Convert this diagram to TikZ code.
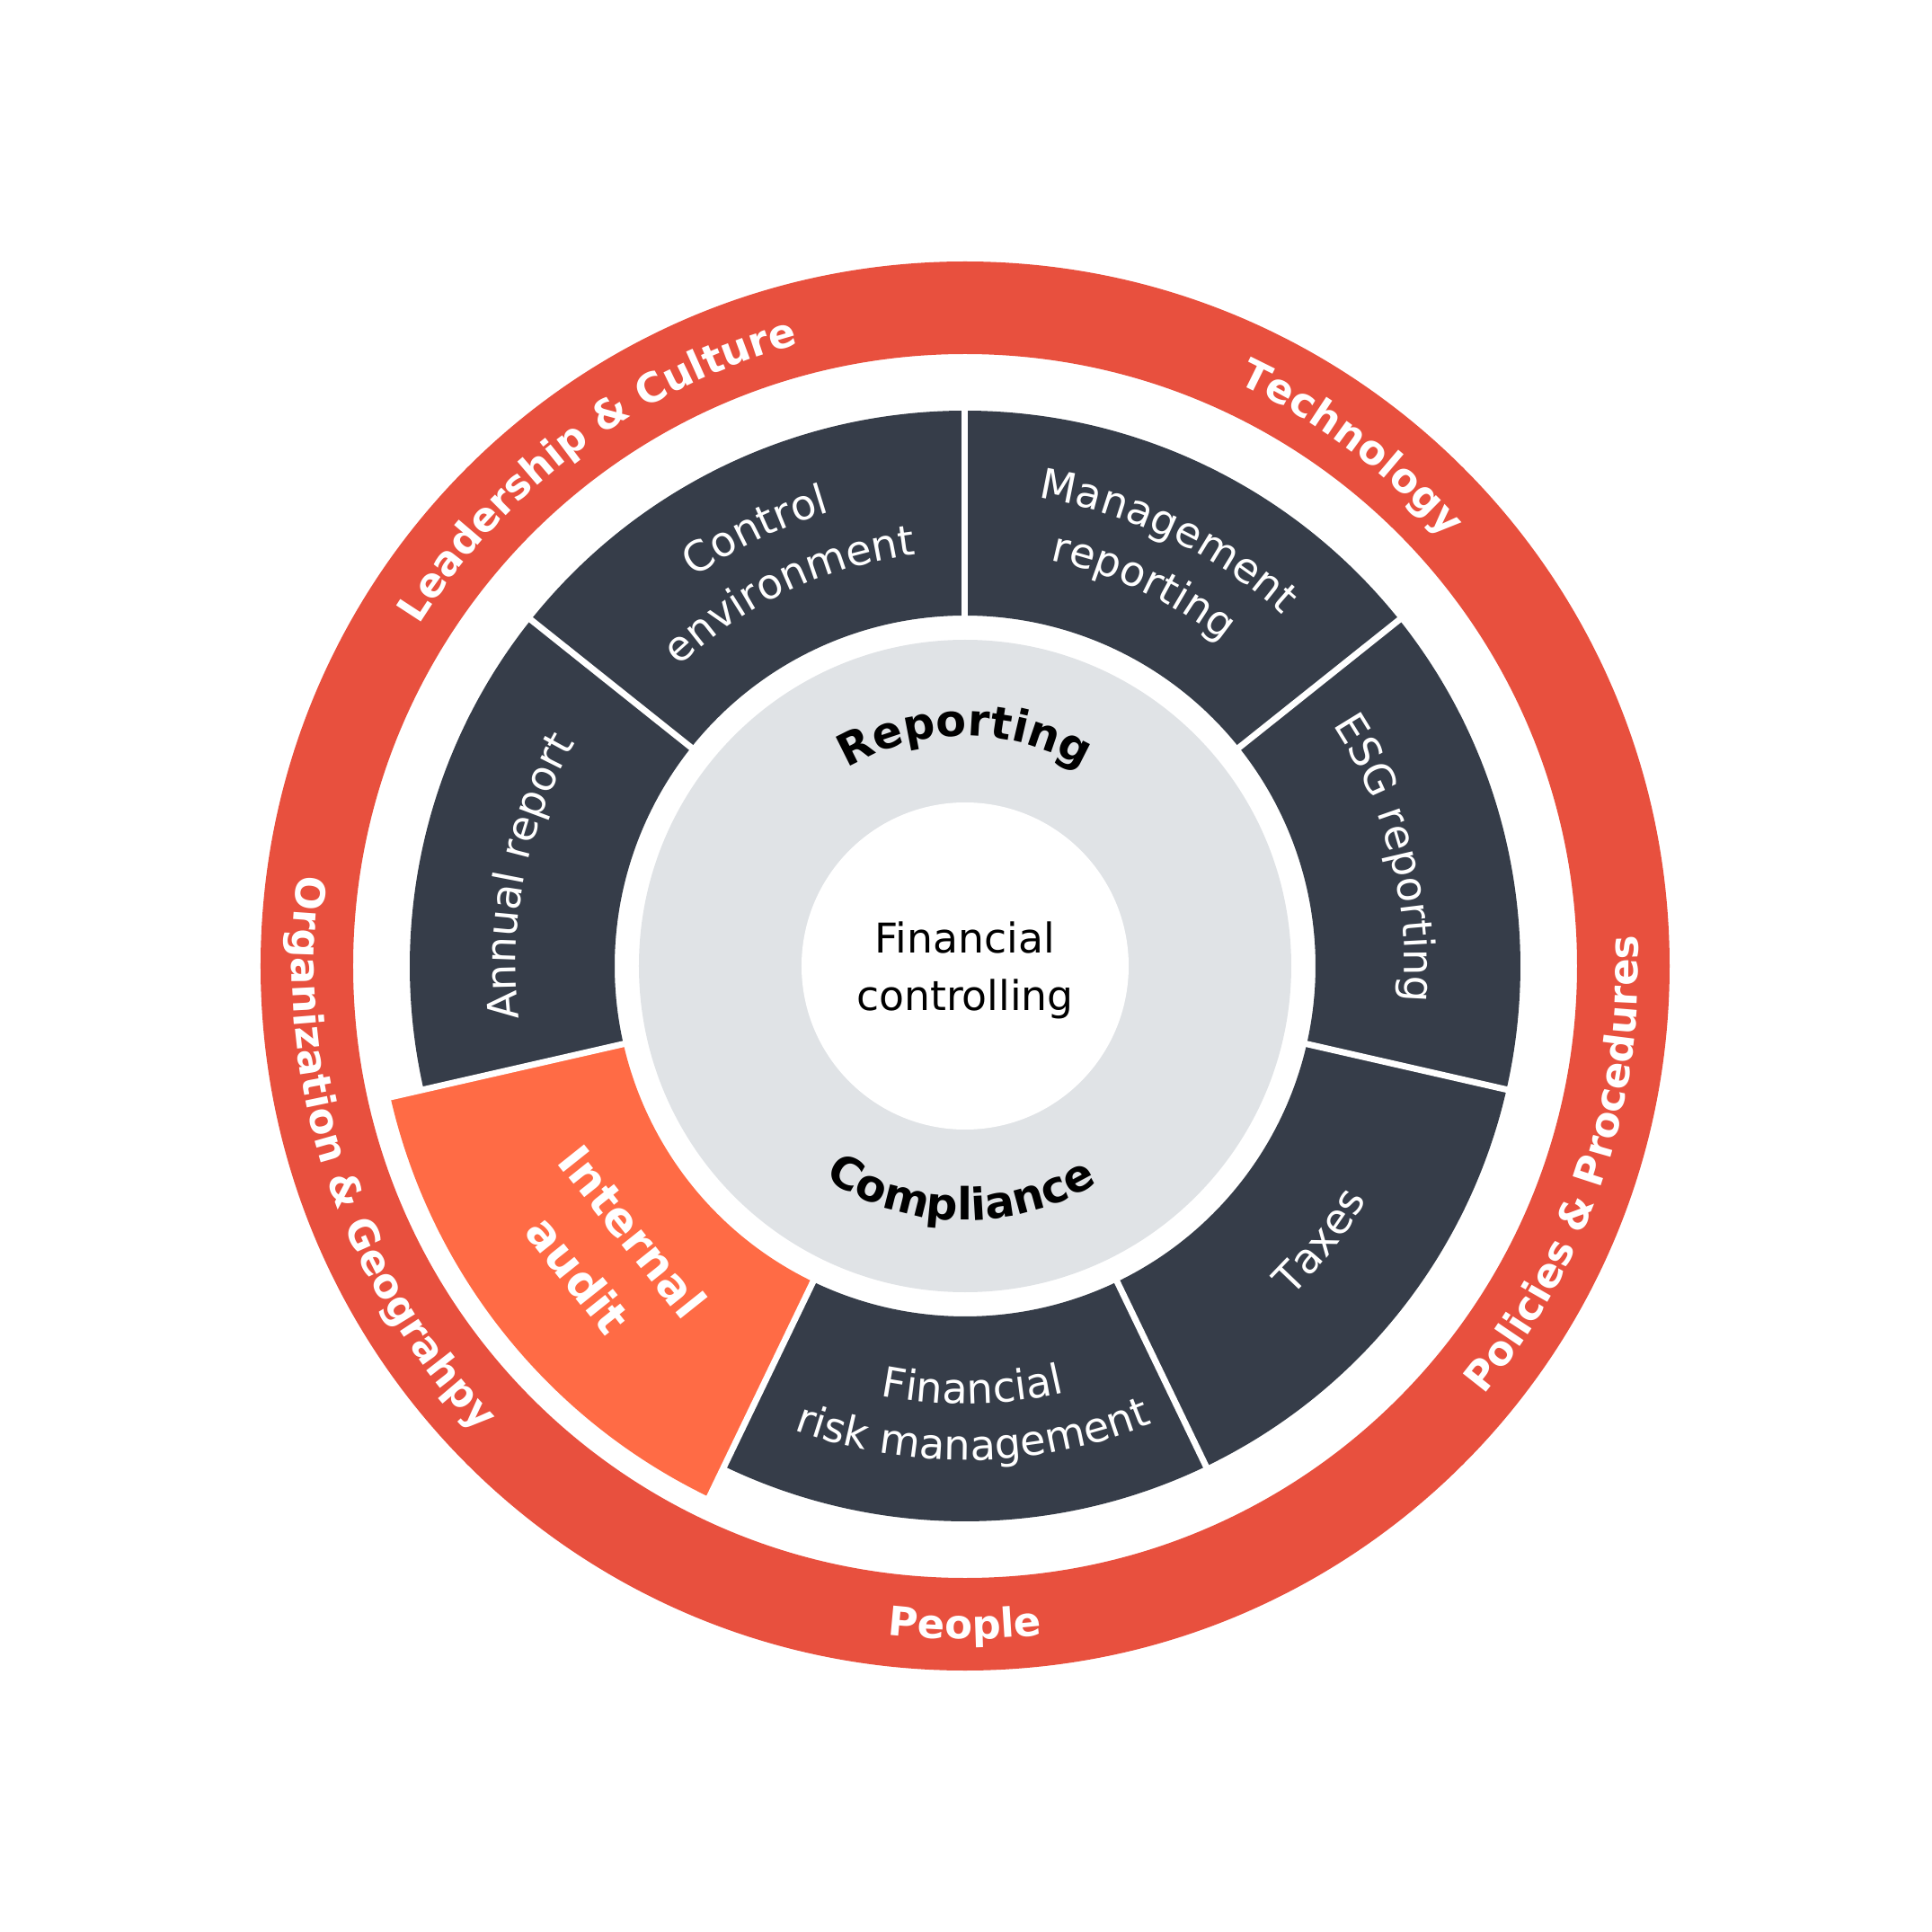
\documentclass[tikz,border=0pt]{standalone}
\usepackage{fontspec}
\setmainfont{DejaVu Sans}
\usetikzlibrary{decorations.text}
\definecolor{ringred}{HTML}{E8503E}
\definecolor{segdark}{HTML}{363D49}
\definecolor{segorange}{HTML}{FF6B45}
\definecolor{coregray}{HTML}{E0E3E6}
\newcommand\ringfnt{\bfseries\fontsize{12.8}{15}\selectfont}
\newcommand\segfnt{\fontsize{13.2}{16}\selectfont}
\newcommand\corefnt{\bfseries\fontsize{14}{16}\selectfont}
% clockwise (top) label: center angle, radius, half span, colour, text
\newcommand\cwlabel[5]{\path[decorate,decoration={text along path,text={#5},text align=center,text color=#4}] ({#1+#3}:#2) arc[start angle={#1+#3},end angle={#1-#3},radius=#2];}
% counter-clockwise (bottom) label
\newcommand\ccwlabel[5]{\path[decorate,decoration={text along path,text={#5},text align=center,text color=#4}] ({#1-#3}:#2) arc[start angle={#1-#3},end angle={#1+#3},radius=#2];}
% sector: start angle, end angle, inner r, outer r, colour
\newcommand\sector[5]{\fill[#5] (#1:#3) arc[start angle=#1,end angle=#2,radius=#3] -- (#2:#4) arc[start angle=#2,end angle=#1,radius=#4] -- cycle;}
\begin{document}
\begin{tikzpicture}[
  sepline/.style={white,line width=0.07cm},
]
\useasboundingbox (-10.74,-10.75) rectangle (10.75,10.75);
% outer ring
\fill[ringred,even odd rule] (0,0) circle[radius=7.84] (0,0) circle[radius=6.81];
% segments
\sector{38.571}{90}{3.90}{6.18}{segdark}
\sector{-12.857}{38.571}{3.90}{6.18}{segdark}
\sector{-64.286}{-12.857}{3.90}{6.18}{segdark}
\sector{-115.714}{-64.286}{3.90}{6.18}{segdark}
\sector{-167.143}{-115.714}{3.90}{6.56}{segorange}
\sector{141.429}{192.857}{3.90}{6.18}{segdark}
\sector{90}{141.429}{3.90}{6.18}{segdark}
% separators
\foreach \a in {90,38.571,-12.857,-64.286,-115.714,-167.143,141.429}
  \draw[sepline] (\a:3.80) -- (\a:6.66);
% core
\fill[coregray] (0,0) circle[radius=3.63];
\fill[white] (0,0) circle[radius=1.82];
\node[align=center,font=\fontsize{13}{18.3}\selectfont] (fc) at (0,-0.05) {Financial\\controlling};
% core labels
\cwlabel{90}{2.56}{50}{black}{|\corefnt|Reporting}
\ccwlabel{269}{2.83}{50}{black}{|\corefnt|Compliance}
% ring labels
\cwlabel{126.5}{7.16}{40}{white}{|\ringfnt|Leadership {\&} Culture}
\cwlabel{53.3}{7.16}{40}{white}{|\ringfnt|Technology}
\ccwlabel{-18.5}{7.49}{40}{white}{|\ringfnt|Policies {\&} Procedures}
\ccwlabel{270}{7.49}{40}{white}{|\ringfnt|People}
\ccwlabel{198}{7.49}{40}{white}{|\ringfnt|Organization {\&} Geograhpy}
% segment labels
\cwlabel{115.7}{5.27}{40}{white}{|\segfnt|Control}
\cwlabel{115.2}{4.61}{40}{white}{|\segfnt|environment}
\cwlabel{64.5}{5.27}{40}{white}{|\segfnt|Management}
\cwlabel{64.8}{4.61}{40}{white}{|\segfnt|reporting}
\cwlabel{14.3}{4.89}{40}{white}{|\segfnt|ESG reporting}
\cwlabel{168.5}{5.00}{40}{white}{|\segfnt|Annual report}
\ccwlabel{-37.8}{5.17}{40}{white}{|\segfnt|Taxes}
\ccwlabel{271}{4.87}{40}{white}{|\segfnt|Financial}
\ccwlabel{271}{5.50}{40}{white}{|\segfnt|risk management}
\node[rotate=-51.43,align=center,text=white,font=\bfseries\fontsize{14.5}{22}\selectfont] (audit) at (218.57:5.12) {Internal\\audit};
\end{tikzpicture}
\end{document}
